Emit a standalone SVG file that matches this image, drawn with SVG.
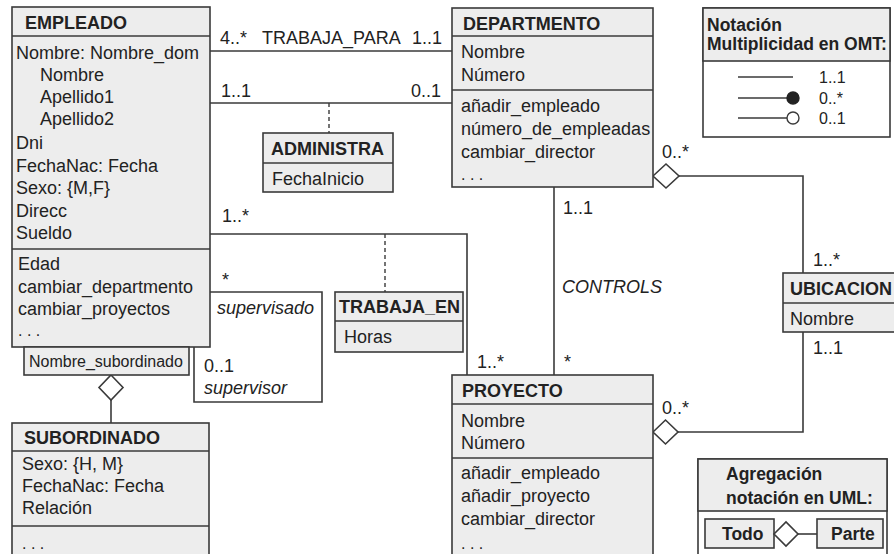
<svg xmlns="http://www.w3.org/2000/svg" width="894" height="554" viewBox="0 0 894 554">
<style>
text{font-family:"Liberation Sans",Arial,Helvetica,sans-serif;font-size:18px;fill:#222}
.b{font-weight:bold}
.i{font-style:italic}
.s{font-size:16px}
.h{font-weight:bold;font-size:17.5px}
.box{fill:#ededed;stroke:#3a3a3a;stroke-width:1.6}
.wbox{fill:#ffffff;stroke:#3a3a3a;stroke-width:1.6}
.ln{fill:none;stroke:#3a3a3a;stroke-width:1.6}
.dash{fill:none;stroke:#3a3a3a;stroke-width:1.4;stroke-dasharray:4 3}
.dia{fill:#ffffff;stroke:#3a3a3a;stroke-width:1.6}
</style>
<rect width="894" height="554" fill="#ffffff"/>

<g id="connectors">
  <!-- TRABAJA_PARA -->
  <line class="ln" x1="210" y1="51" x2="452" y2="51"/>
  <!-- ADMINISTRA -->
  <line class="ln" x1="210" y1="103" x2="452" y2="103"/>
  <line class="dash" x1="329" y1="103" x2="329" y2="133"/>
  <!-- TRABAJA_EN -->
  <polyline class="ln" points="210,234 467,234 467,375"/>
  <line class="dash" x1="385" y1="234" x2="385" y2="292"/>
  <!-- supervision loop -->
  <polyline class="ln" points="210,292 322,292 322,402 194,402 194,347"/>
  <!-- CONTROLS -->
  <line class="ln" x1="554" y1="187" x2="554" y2="375"/>
  <!-- DEPT - UBICACION -->
  <polyline class="ln" points="679,176 803,176 803,273"/>
  <polygon class="dia" points="653,176 666,164 679,176 666,188"/>
  <!-- PROYECTO - UBICACION -->
  <polyline class="ln" points="803,332 803,432 678,432"/>
  <polygon class="dia" points="653,432 665.5,420 678,432 665.5,444"/>
  <!-- subordinado aggregation -->
  <line class="ln" x1="111" y1="400" x2="111" y2="423"/>
  <polygon class="dia" points="111,375 123,387.5 111,400 99,387.5"/>

  <!-- labels -->
  <text x="220" y="44">4..*</text>
  <text x="262" y="44">TRABAJA_PARA</text>
  <text x="412" y="44">1..1</text>
  <text x="221" y="97">1..1</text>
  <text x="411" y="97">0..1</text>
  <text x="222" y="222">1..*</text>
  <text x="222" y="286">*</text>
  <text class="i" x="217" y="314">supervisado</text>
  <text x="204" y="372">0..1</text>
  <text class="i" x="204" y="394">supervisor</text>
  <text x="563" y="214">1..1</text>
  <text class="i" x="562" y="293">CONTROLS</text>
  <text x="564" y="368">*</text>
  <text x="477" y="368">1..*</text>
  <text x="662" y="158">0..*</text>
  <text x="813" y="266">1..*</text>
  <text x="813" y="354">1..1</text>
  <text x="662" y="414">0..*</text>
</g>

<g id="empleado">
  <rect class="box" x="12" y="7" width="198" height="340"/>
  <line class="ln" x1="12" y1="36" x2="210" y2="36"/>
  <line class="ln" x1="12" y1="249" x2="210" y2="249"/>
  <text class="b" x="25" y="29">EMPLEADO</text>
  <text x="16" y="59">Nombre: Nombre_dom</text>
  <text x="40" y="81">Nombre</text>
  <text x="40" y="103">Apellido1</text>
  <text x="40" y="125">Apellido2</text>
  <text x="16" y="149">Dni</text>
  <text x="16" y="172">FechaNac: Fecha</text>
  <text x="16" y="194">Sexo: {M,F}</text>
  <text x="16" y="217">Direcc</text>
  <text x="16" y="239">Sueldo</text>
  <text x="18" y="270">Edad</text>
  <text x="18" y="293">cambiar_departmento</text>
  <text x="18" y="315">cambiar_proyectos</text>
  <text x="18" y="336" class="s">. . .</text>
</g>

<g id="nombre_subordinado">
  <rect class="box" x="24" y="347" width="165" height="28"/>
  <text class="s" x="29" y="367">Nombre_subordinado</text>
</g>

<g id="subordinado">
  <rect class="box" x="12" y="423" width="197" height="140"/>
  <line class="ln" x1="12" y1="451" x2="209" y2="451"/>
  <line class="ln" x1="12" y1="526" x2="209" y2="526"/>
  <text class="b" x="24" y="444">SUBORDINADO</text>
  <text x="22" y="470">Sexo: {H, M}</text>
  <text x="22" y="492">FechaNac: Fecha</text>
  <text x="22" y="514">Relación</text>
  <text class="s" x="22" y="549">. . .</text>
</g>

<g id="administra">
  <rect class="box" x="263" y="133" width="130" height="59"/>
  <line class="ln" x1="263" y1="163" x2="393" y2="163"/>
  <text class="b" x="271" y="155">ADMINISTRA</text>
  <text x="272" y="185">FechaInicio</text>
</g>

<g id="trabaja_en">
  <rect class="box" x="335" y="292" width="128" height="60"/>
  <line class="ln" x1="335" y1="321" x2="463" y2="321"/>
  <text class="b" x="339" y="313">TRABAJA_EN</text>
  <text x="344" y="343">Horas</text>
</g>

<g id="departmento">
  <rect class="box" x="452" y="8" width="201" height="179"/>
  <line class="ln" x1="452" y1="36" x2="653" y2="36"/>
  <line class="ln" x1="452" y1="90" x2="653" y2="90"/>
  <text class="b" x="463" y="30">DEPARTMENTO</text>
  <text x="461" y="58">Nombre</text>
  <text x="461" y="81">Número</text>
  <text x="461" y="112">añadir_empleado</text>
  <text x="461" y="135">número_de_empleadas</text>
  <text x="461" y="158">cambiar_director</text>
  <text class="s" x="461" y="180">. . .</text>
</g>

<g id="proyecto">
  <rect class="box" x="452" y="375" width="201" height="190"/>
  <line class="ln" x1="452" y1="404" x2="653" y2="404"/>
  <line class="ln" x1="452" y1="458" x2="653" y2="458"/>
  <text class="b" x="462" y="397">PROYECTO</text>
  <text x="461" y="427">Nombre</text>
  <text x="461" y="449">Número</text>
  <text x="461" y="479">añadir_empleado</text>
  <text x="461" y="502">añadir_proyecto</text>
  <text x="461" y="525">cambiar_director</text>
  <text class="s" x="461" y="549">. . .</text>
</g>

<g id="ubicacion">
  <rect class="box" x="783" y="273" width="120" height="59"/>
  <line class="ln" x1="783" y1="303" x2="903" y2="303"/>
  <text class="b" x="790" y="295">UBICACION</text>
  <text x="790" y="325">Nombre</text>
</g>

<g id="notacion_omt">
  <rect class="wbox" x="703" y="8" width="187" height="129"/>
  <rect class="box" x="703" y="8" width="187" height="53"/>
  <text class="h" x="707" y="31">Notación</text>
  <text class="h" x="707" y="50">Multiplicidad en OMT:</text>
  <line class="ln" x1="738" y1="77" x2="793" y2="77"/>
  <text class="s" x="819" y="83">1..1</text>
  <line class="ln" x1="738" y1="98" x2="793" y2="98"/>
  <circle cx="793" cy="98" r="6" fill="#222" stroke="#222" stroke-width="1.4"/>
  <text class="s" x="819" y="104">0..*</text>
  <line class="ln" x1="738" y1="118" x2="787" y2="118"/>
  <circle cx="793" cy="118" r="6" fill="#fff" stroke="#3a3a3a" stroke-width="1.4"/>
  <text class="s" x="819" y="124">0..1</text>
</g>

<g id="agregacion_uml">
  <rect class="wbox" x="698" y="459" width="189" height="100"/>
  <rect class="box" x="698" y="459" width="189" height="52"/>
  <text class="h" x="726" y="480">Agregación</text>
  <text class="h" x="726" y="504">notación en UML:</text>
  <rect class="box" x="705" y="519" width="69" height="29"/>
  <text class="h" x="722" y="540">Todo</text>
  <polygon class="dia" points="774,534 786,522 798,534 786,546"/>
  <line class="ln" x1="798" y1="534" x2="817" y2="534"/>
  <rect class="box" x="817" y="519" width="66" height="29"/>
  <text class="h" x="831" y="540">Parte</text>
</g>
</svg>
